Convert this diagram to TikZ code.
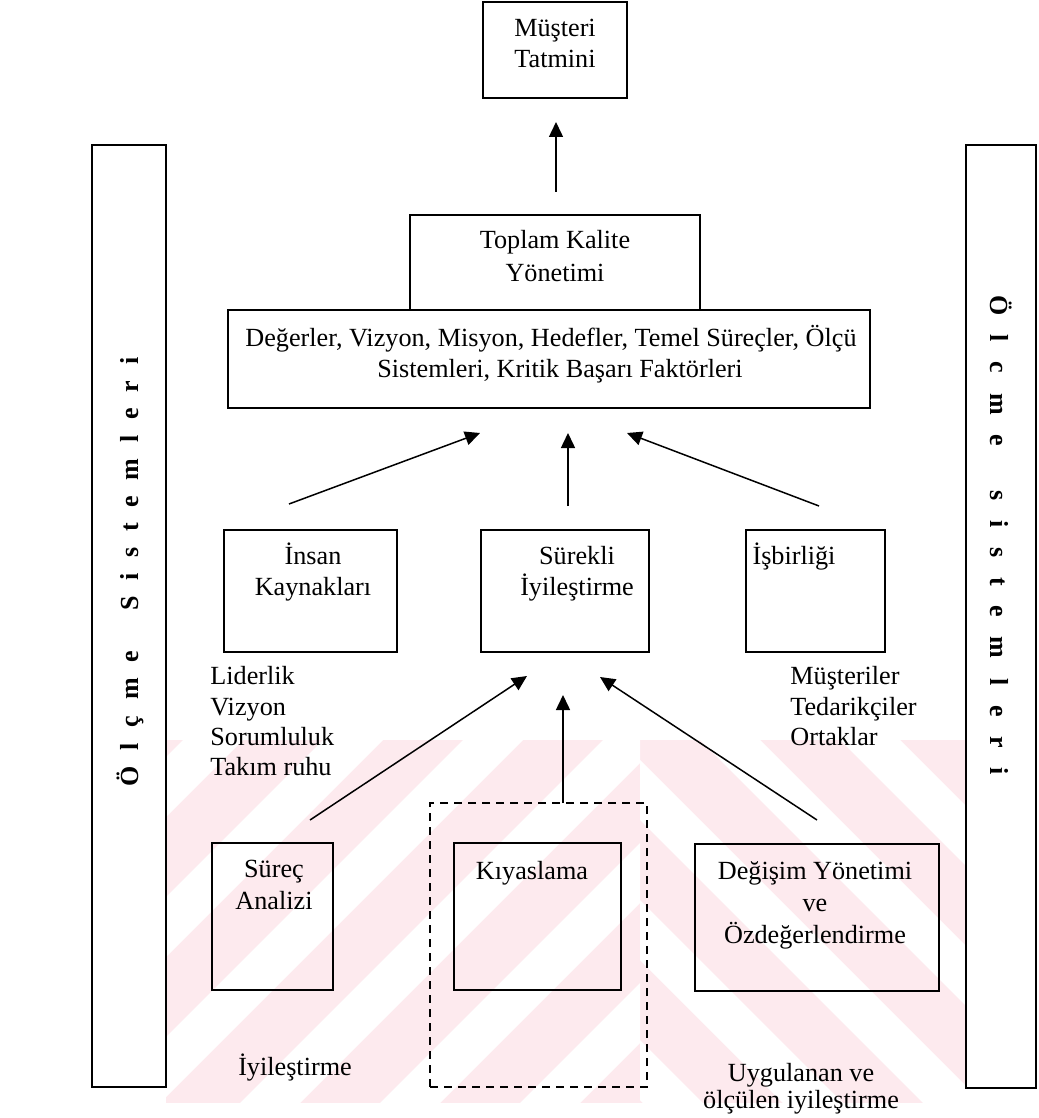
\documentclass[tikz,border=0pt]{standalone}
\usepackage{fontspec}
\setmainfont{Liberation Serif}
\usetikzlibrary{arrows.meta}
\definecolor{wmpink}{RGB}{253,234,238}
% letter spacing for the vertical side labels
\newcommand{\gapl}{\kern7.9pt}
\newcommand{\wgapl}{\kern20pt}
\newcommand{\gapr}{\kern9.85pt}
\newcommand{\wgapr}{\kern22.4pt}
\begin{document}
\begin{tikzpicture}[x=0.5pt,y=-0.5pt,
  box/.style={draw, line width=0.7pt, inner sep=0pt},
  dashbox/.style={draw, line width=0.6pt, dash pattern=on 4pt off 3pt, inner sep=0pt},
  txt/.style={font=\fontsize{13.1}{15.5}\selectfont, inner sep=0pt, anchor=base},
  ltxt/.style={txt, anchor=base west},
  side/.style={font=\bfseries\fontsize{13}{15}\selectfont, inner sep=0pt},
  conn/.style={line width=0.75pt, -{Triangle[length=7.5pt,width=7pt]}}]

\useasboundingbox (0,0) rectangle (1038,1118);
\clip (0,0) rectangle (1038,1118);

% faint striped background band
\begin{scope}
  \clip (166,740) rectangle (966,1103);
  \fill[wmpink] (166,740) rectangle (966,1103);
  \begin{scope}
    \clip (166,740) rectangle (640,1103);
    \foreach \k in {-4,...,4}
      \fill[white] ({100+140*\k},1103) -- ++(60,0) -- ++(363,-363) -- ++(-60,0) -- cycle;
  \end{scope}
  \begin{scope}
    \clip (640,740) rectangle (966,1103);
    \foreach \k in {-4,...,4}
      \fill[white] ({560+140*\k},740) -- ++(60,0) -- ++(363,363) -- ++(-60,0) -- cycle;
  \end{scope}
\end{scope}

% side frames
\node[box, minimum width=37pt, minimum height=471pt] (lbar) at (129,616) {};
\node[box, minimum width=35pt, minimum height=471.5pt] (rbar) at (1001,616.5) {};
\node[side, rotate=90] (lbarT) at (130,572)
  {Ö\gapl l\gapl ç\gapl m\gapl e\wgapl S\gapl i\gapl s\gapl t\gapl e\gapl m\gapl l\gapl e\gapl r\gapl i};
\node[side, rotate=-90] (rbarT) at (1001,535)
  {Ö\gapr l\gapr c\gapr m\gapr e\wgapr s\gapr i\gapr s\gapr t\gapr e\gapr m\gapr l\gapr e\gapr r\gapr i};

% boxes
\node[box, minimum width=72pt, minimum height=48pt] (mt) at (555,50) {};
\node[box, minimum width=145pt, minimum height=47.5pt] (tky) at (555,262.5) {};
\node[box, minimum width=321pt, minimum height=49pt] (deg) at (549,359) {};
\node[box, minimum width=86.5pt, minimum height=61pt] (ik) at (310.5,591) {};
\node[box, minimum width=84pt, minimum height=61pt] (si) at (565,591) {};
\node[box, minimum width=69.5pt, minimum height=61pt] (ib) at (815.5,591) {};
\node[dashbox, minimum width=108.5pt, minimum height=142pt] (kyd) at (538.5,945) {};
\node[box, minimum width=60.5pt, minimum height=73.5pt] (sa) at (272.5,916.5) {};
\node[box, minimum width=83.5pt, minimum height=73.5pt] (ky) at (537.5,916.5) {};
\node[box, minimum width=122pt, minimum height=73.5pt] (dy) at (817,917.5) {};

% box texts
\node[txt] (mtA) at (555,37) {Müşteri};
\node[txt] (mtB) at (555,68) {Tatmini};
\node[txt] (tkyA) at (555,249) {Toplam Kalite};
\node[txt] (tkyB) at (555,281) {Yönetimi};
\node[txt] (degA) at (551,346) {Değerler, Vizyon, Misyon, Hedefler, Temel Süreçler, Ölçü};
\node[txt] (degB) at (560,377) {Sistemleri, Kritik Başarı Faktörleri};
\node[txt] (ikA) at (313,564) {İnsan};
\node[txt] (ikB) at (313,595) {Kaynakları};
\node[txt] (siA) at (577,564) {Sürekli};
\node[txt] (siB) at (577,595) {İyileştirme};
\node[txt] (ibA) at (794,564) {İşbirliği};
\node[txt] (saA) at (274,877) {Süreç};
\node[txt] (saB) at (274,909) {Analizi};
\node[txt] (kyA) at (532,879) {Kıyaslama};
\node[txt] (dyA) at (815,879) {Değişim Yönetimi};
\node[txt] (dyB) at (815,911) {ve};
\node[txt] (dyC) at (815,943) {Özdeğerlendirme};

% free-standing texts
\node[ltxt] (l1) at (210,684) {Liderlik};
\node[ltxt] (l2) at (210,715) {Vizyon};
\node[ltxt] (l3) at (210,745) {Sorumluluk};
\node[ltxt] (l4) at (210,775) {Takım ruhu};
\node[ltxt] (r1) at (790,684) {Müşteriler};
\node[ltxt] (r2) at (790,715) {Tedarikçiler};
\node[ltxt] (r3) at (790,745) {Ortaklar};
\node[txt] (iy) at (295,1075) {İyileştirme};
\node[txt] (ugA) at (801,1081) {Uygulanan ve};
\node[txt] (ugB) at (801,1108) {ölçülen iyileştirme};

% arrow end points
\coordinate (a0s) at (556,192);  \coordinate (a0e) at (556,122);
\coordinate (als) at (289,504);  \coordinate (ale) at (480,433);
\coordinate (ams) at (568,506);  \coordinate (ame) at (568,433);
\coordinate (ars) at (819,506);  \coordinate (are) at (627,433);
\coordinate (bls) at (310,820);  \coordinate (ble) at (527,676);
\coordinate (bms) at (563,803);  \coordinate (bme) at (563,695);
\coordinate (brs) at (817,820);  \coordinate (bre) at (600,677);

\draw[conn] (a0s) -- (a0e);
\draw[conn] (als) -- (ale);
\draw[conn] (ams) -- (ame);
\draw[conn] (ars) -- (are);
\draw[conn] (bls) -- (ble);
\draw[conn] (bms) -- (bme);
\draw[conn] (brs) -- (bre);
\end{tikzpicture}
\end{document}
